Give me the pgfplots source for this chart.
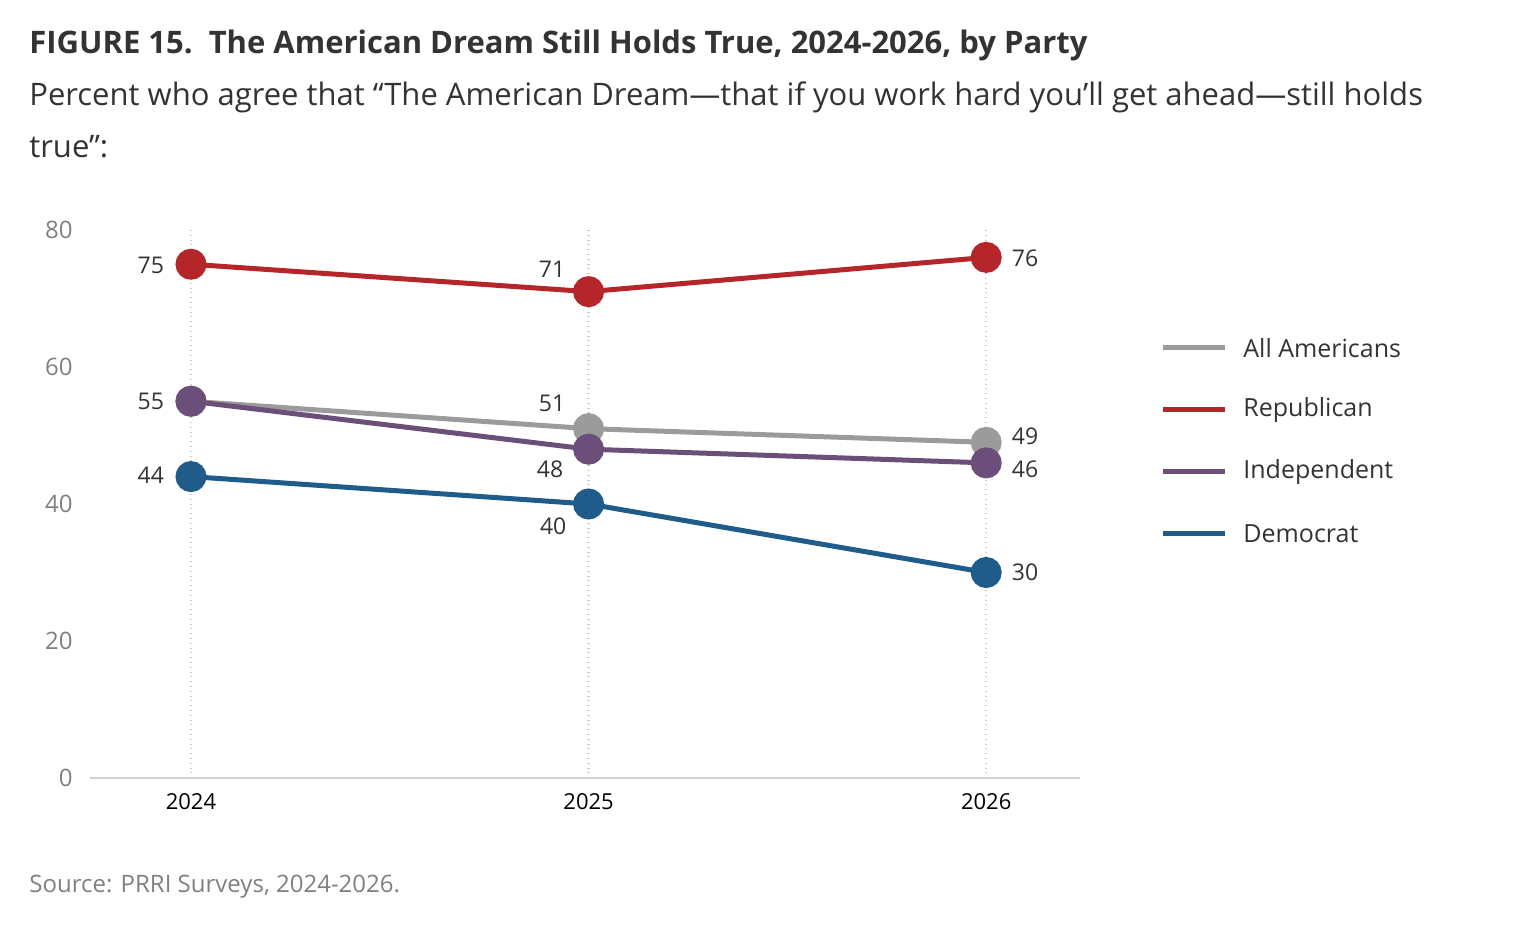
\documentclass[border=0pt]{standalone}
\usepackage{pgfplots}
\pgfplotsset{compat=1.18}
\usepackage{fontspec}
\setmainfont{Open Sans}
\definecolor{cgray}{HTML}{9B9B9B}
\definecolor{cred}{HTML}{B5262B}
\definecolor{cpurple}{HTML}{6B4E7A}
\definecolor{cblue}{HTML}{1F5C8A}
\definecolor{ctext}{HTML}{333333}
\begin{document}
\begin{tikzpicture}
\path[use as bounding box] (0,0) rectangle (768pt,468pt);
\node[anchor=base west,inner sep=0,text=ctext,font=\fontsize{15.5}{18}\selectfont\bfseries] at (14.5pt,441pt) {FIGURE 15.\ \ The American Dream Still Holds True, 2024-2026, by Party};
\node[anchor=base west,inner sep=0,text=ctext,font=\fontsize{15.5}{18}\selectfont] at (14.5pt,415pt) {Percent who agree that “The American Dream—that if you work hard you’ll get ahead—still holds};
\node[anchor=base west,inner sep=0,text=ctext,font=\fontsize{15.5}{18}\selectfont] at (14.5pt,389pt) {true”:};
\node[anchor=base west,inner sep=0,text=gray,font=\fontsize{12}{14}\selectfont] at (14.5pt,21.5pt) {Source: PRRI Surveys, 2024-2026.};
\begin{axis}[
  at={(45pt,79pt)}, anchor=south west, scale only axis,
  width=495pt, height=274pt,
  xmin=2023.746, xmax=2026.236, ymin=0, ymax=80,
  axis y line=none, axis x line*=bottom,
  x axis line style={draw=black!18, line width=1pt, -},
  xtick={2024,2025,2026}, xticklabels={2024,2025,2026},
  ytick=\empty, major tick length=0pt,
  xticklabel style={font=\fontsize{11}{13}\selectfont, text=black, yshift=-4pt},
  xmajorgrids, grid style={draw=black!20, dotted, line width=1.2pt},
  clip=false,
]
\node[anchor=east,text=black!50,font=\fontsize{12}{14}\selectfont] at (axis cs:2023.72,0) {0};
\node[anchor=east,text=black!50,font=\fontsize{12}{14}\selectfont] at (axis cs:2023.72,20) {20};
\node[anchor=east,text=black!50,font=\fontsize{12}{14}\selectfont] at (axis cs:2023.72,40) {40};
\node[anchor=east,text=black!50,font=\fontsize{12}{14}\selectfont] at (axis cs:2023.72,60) {60};
\node[anchor=east,text=black!50,font=\fontsize{12}{14}\selectfont] at (axis cs:2023.72,80) {80};
\addplot[cgray, line width=2.5pt, mark=*, mark size=6.5pt] coordinates {(2024,55)(2025,51)(2026,49)};
\addplot[cpurple, line width=2.5pt, mark=*, mark size=6.5pt] coordinates {(2024,55)(2025,48)(2026,46)};
\addplot[cblue, line width=2.5pt, mark=*, mark size=6.5pt] coordinates {(2024,44)(2025,40)(2026,30)};
\addplot[cred, line width=2.5pt, mark=*, mark size=6.5pt] coordinates {(2024,75)(2025,71)(2026,76)};
\node[text=ctext,font=\fontsize{11.5}{13}\selectfont] at (axis cs:2023.899,74.9) {75};
\node[text=ctext,font=\fontsize{11.5}{13}\selectfont] at (axis cs:2024.908,74.2) {71};
\node[text=ctext,font=\fontsize{11.5}{13}\selectfont] at (axis cs:2026.098,75.9) {76};
\node[text=ctext,font=\fontsize{11.5}{13}\selectfont] at (axis cs:2023.899,55.0) {55};
\node[text=ctext,font=\fontsize{11.5}{13}\selectfont] at (axis cs:2024.908,54.7) {51};
\node[text=ctext,font=\fontsize{11.5}{13}\selectfont] at (axis cs:2026.098,49.9) {49};
\node[text=ctext,font=\fontsize{11.5}{13}\selectfont] at (axis cs:2024.903,45.1) {48};
\node[text=ctext,font=\fontsize{11.5}{13}\selectfont] at (axis cs:2026.098,45.1) {46};
\node[text=ctext,font=\fontsize{11.5}{13}\selectfont] at (axis cs:2023.899,44.2) {44};
\node[text=ctext,font=\fontsize{11.5}{13}\selectfont] at (axis cs:2024.911,36.8) {40};
\node[text=ctext,font=\fontsize{11.5}{13}\selectfont] at (axis cs:2026.098,30.1) {30};
\end{axis}
\foreach \c/\t/\y in {cgray/All Americans/294, cred/Republican/263, cpurple/Independent/232, cblue/Democrat/201}{
  \draw[\c, line width=2.5pt] (581.5pt,\y pt) -- (612.5pt,\y pt);
  \node[anchor=west,inner sep=0,text=ctext,font=\fontsize{12.5}{15}\selectfont] at (621.5pt,\y pt) {\t};
}
\end{tikzpicture}
\end{document}
